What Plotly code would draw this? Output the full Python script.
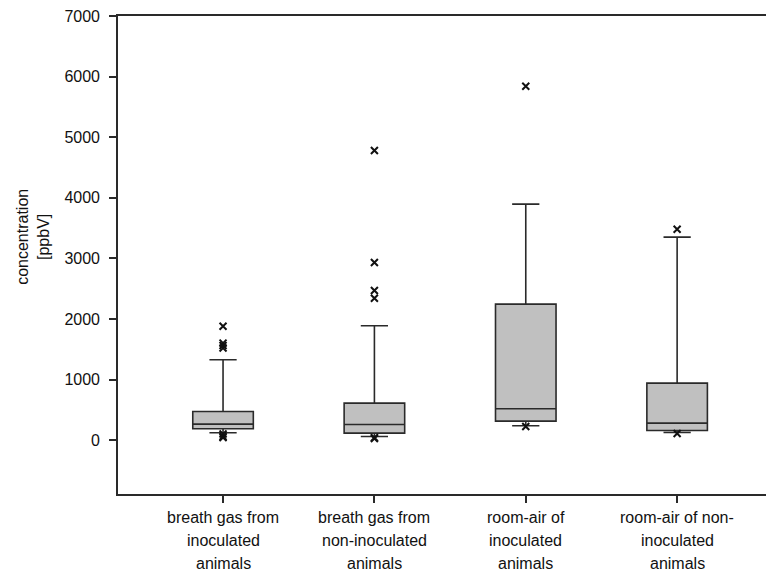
import plotly.graph_objects as go

categories = ["breath gas from<br>inoculated<br>animals",
              "breath gas from<br>non-inoculated<br>animals",
              "room-air of<br>inoculated<br>animals",
              "room-air of non-<br>inoculated<br>animals"]
positions = [1, 2, 3, 4]

lower_whisker = [120, 60, 236, 125]
q1_values = [186, 115, 313, 158]
median_values = [264, 258, 516, 280]
q3_values = [472, 610, 2244, 940]
upper_whisker = [1325, 1886, 3894, 3350]

outliers = [
    [1880, 1600, 1560, 1520, 100, 60, 40],
    [4780, 2930, 2470, 2340, 40, 25],
    [5840, 225],
    [3480, 110],
]

y_ticks = [0, 1000, 2000, 3000, 4000, 5000, 6000, 7000]

FONT = "Liberation Sans, Arial, sans-serif"
DARK = "#2a2a2a"
TEXT = "#111111"
FS = 16

fig = go.Figure()
fig.add_trace(go.Box(
    x=positions, q1=q1_values, median=median_values, q3=q3_values,
    lowerfence=lower_whisker, upperfence=upper_whisker,
    width=0.4, whiskerwidth=0.45,
    fillcolor="#c0c0c0", line=dict(color=DARK, width=1.6),
    showlegend=False, hoverinfo="skip",
))
for p, pts in zip(positions, outliers):
    fig.add_trace(go.Scatter(
        x=[p] * len(pts), y=pts, mode="markers",
        marker=dict(symbol="x-thin-open", size=7, color=TEXT,
                    line=dict(color=TEXT, width=2)),
        showlegend=False, hoverinfo="skip",
    ))

# multi-line category labels, one annotation per line for the original spacing
for p, lab in zip(positions, categories):
    for i, line in enumerate(lab.split("<br>")):
        fig.add_annotation(x=p, xref="x", y=0, yref="paper", yanchor="middle",
                           yshift=-23 - 23 * i, text=line, showarrow=False,
                           font=dict(family=FONT, size=FS, color=TEXT))

fig.add_annotation(x=-0.1296, xref="paper", y=3354, yref="y",
                   text="concentration<br>[ppbV]", textangle=-90, showarrow=False,
                   xanchor="center", yanchor="middle",
                   font=dict(family=FONT, size=FS, color=TEXT))

fig.update_xaxes(range=[0.306, 4.64], tickvals=positions, showticklabels=False,
                 ticks="outside", ticklen=7, tickwidth=1.5, tickcolor=DARK,
                 showline=True, linecolor=DARK, linewidth=1.6, mirror=True,
                 showgrid=False, zeroline=False)
fig.update_yaxes(range=[-890, 7000], tickvals=y_ticks,
                 ticks="outside", ticklen=7, tickwidth=1.5, tickcolor=DARK,
                 ticklabelstandoff=6, ticklabeloverflow="allow",
                 showline=True, linecolor=DARK, linewidth=1.6,
                 showgrid=False, zeroline=False,
                 tickfont=dict(family=FONT, size=FS, color=TEXT))

# page body has an 8px margin, so the figure is sized to fit the 774x578 window
fig.update_layout(width=766, height=570,
                  margin=dict(l=110, r=0, t=8, b=84),
                  paper_bgcolor="white", plot_bgcolor="white",
                  font=dict(family=FONT, size=FS, color=TEXT))

fig.write_html("out.html")
